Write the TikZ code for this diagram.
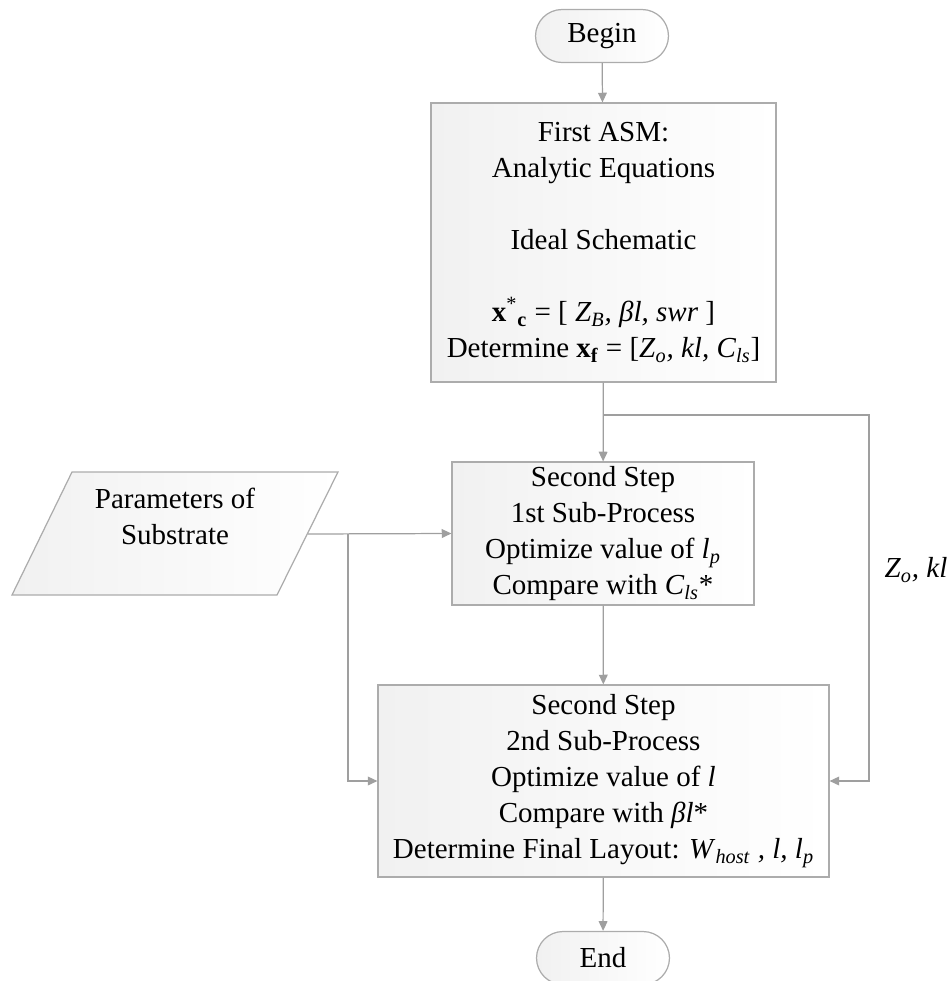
\documentclass[tikz,border=0pt]{standalone}
\usepackage{fontspec}
\setmainfont{Liberation Serif}
\usetikzlibrary{arrows.meta}

\begin{document}
\begin{tikzpicture}[x=0.02cm, y=-0.02cm,
    every node/.style={font=\fontsize{16.5}{20.5}\selectfont},
    terminal/.style={draw=gray!65, line width=0.7pt, left color=gray!11, right color=white,
        rounded corners=0.53cm, minimum width=2.66cm, minimum height=1.06cm},
    process/.style={draw=gray!65, line width=0.7pt, left color=gray!11, right color=white,
        align=center, inner sep=0pt},
    flow/.style={draw=gray!75, line width=0.7pt, -{Triangle[length=5.5pt, width=5pt]}}]
    \useasboundingbox (0,0) rectangle (952,981);

    \node[terminal] (begin) at (602,36) {Begin};
    \node[process, minimum width=6.9cm, minimum height=5.58cm] (asm) at (603.5,242.5)
        {First ASM:\\ Analytic Equations\\ \mbox{}\\ Ideal Schematic\\ \mbox{}\\
        \textbf{x}\textsuperscript{*}\textsubscript{\textbf{c}} = [ \textit{Z}\textsubscript{\textit{B}}\textit{, βl, swr} ]\\
        Determine \textbf{x}\textsubscript{\textbf{f}} = [\textit{Z}\textsubscript{\textit{o}}\textit{, kl, C}\textsubscript{\textit{ls}}]};
    \node[process, minimum width=6.04cm, minimum height=2.86cm] (step1) at (603,533.5)
        {Second Step\\ 1st Sub-Process\\ Optimize value of \textit{l}\textsubscript{\textit{p}}\\
        Compare with \textit{C}\textsubscript{\textit{ls}}*};
    \node[process, minimum width=9.02cm, minimum height=3.84cm] (step2) at (603.5,781)
        {Second Step\\ 2nd Sub-Process\\ Optimize value of \textit{l}\\ Compare with \textit{βl}*\\
        Determine Final Layout: \textit{W}\textsubscript{\textit{host}}\textit{ , l, l}\textsubscript{\textit{p}}};
    \node[terminal] (finish) at (603,958) {End};

    \path[draw=gray!65, line width=0.7pt, left color=gray!11, right color=white]
        (72,472) -- (338,472) -- (277,595) -- (12,595) -- cycle;
    \node[align=center] (subs) at (175,516) {Parameters of\\ Substrate};
    \node (zkl) at (916,570) {\textit{Z}\textsubscript{\textit{o}}\textit{, kl}};

    \coordinate (split) at (603,415);
    \coordinate (fbk) at (869,415);
    \coordinate (subsout) at (308,534);
    \coordinate (tap) at (348,534);

    \draw[flow] (begin) -- (asm);
    \draw[flow] (asm) -- (step1);
    \draw[flow] (split) -- (fbk) |- (step2.east);
    \draw[flow] (subsout) -- (step1.west);
    \draw[flow] (tap) |- (step2.west);
    \draw[flow] (step1) -- (step2);
    \draw[flow] (step2) -- (finish);
\end{tikzpicture}
\end{document}
